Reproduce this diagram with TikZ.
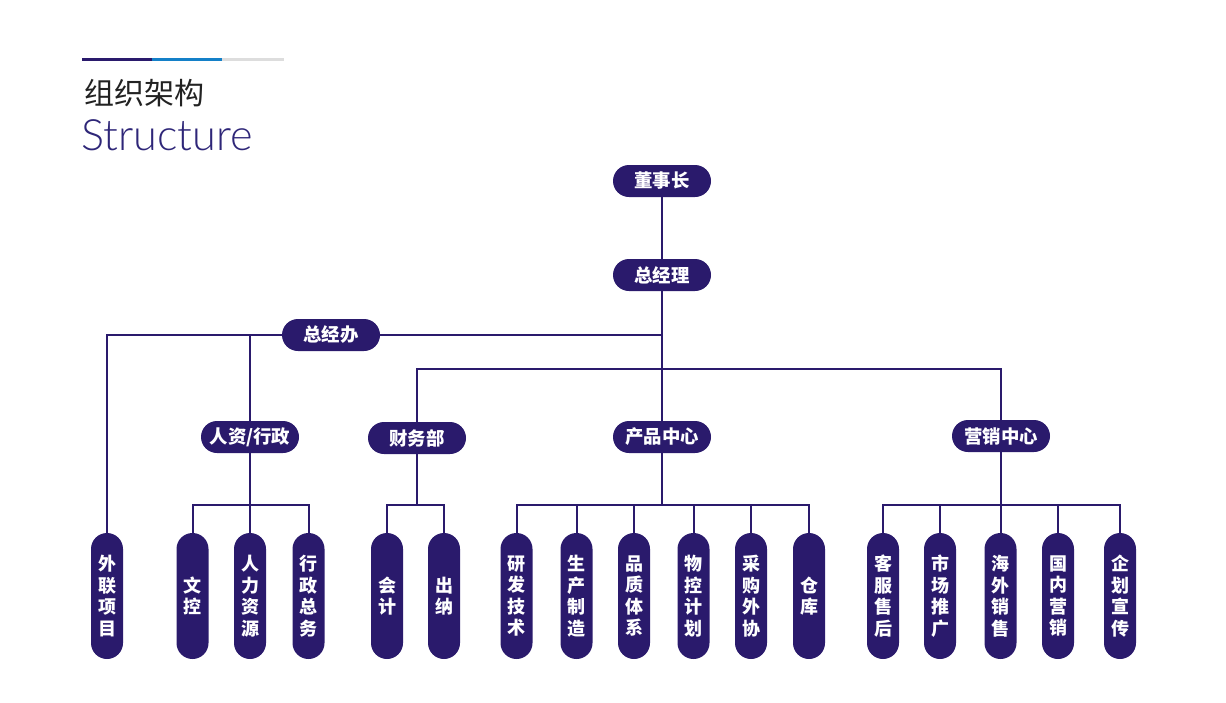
\documentclass[tikz,border=0pt]{standalone}
\usepackage{fontspec}
\newfontfamily\cjk{Noto Sans CJK SC}
\newfontfamily\latin{Lato Light}
\definecolor{ink}{HTML}{2A1A6C}
\definecolor{barblue}{HTML}{1480C8}
\definecolor{bargray}{HTML}{DDDDDD}
\definecolor{titlegray}{HTML}{222222}
\definecolor{titleblue}{HTML}{2E2678}
\tikzset{
	hbox/.style={fill=ink, text=white, rounded corners=8pt, minimum width=49pt, minimum height=16pt, inner sep=2pt, font=\cjk\bfseries\fontsize{9.2}{9.2}\selectfont},
	vbox/.style={fill=ink, text=white, rounded corners=8pt, minimum width=16pt, minimum height=63pt, inner sep=0pt, align=center, font=\cjk\bfseries\fontsize{9}{10.8}\selectfont},
	link/.style={draw=ink, line width=1pt}
}
\begin{document}
\begin{tikzpicture}[x=0.5pt,y=-0.5pt]
				\useasboundingbox (0,0) rectangle (1226,702);
				
				% header
				\fill[ink] (82,58) rectangle (152,61);
				\fill[barblue] (152,58) rectangle (222,61);
				\fill[bargray] (222,58) rectangle (284,61);
				\node[anchor=west, inner sep=0pt, text=titlegray, font=\cjk\fontsize{15}{15}\selectfont] (title) at (84,93) {组织架构};
				\node[anchor=base west, inner sep=0pt, text=titleblue, font=\latin\fontsize{21.6}{21.6}\selectfont] (subtitle) at (81,150) {Structure};
				
				% top levels
				\node[hbox] (dsz) at (662,181) {董事长};
				\node[hbox] (zjl) at (662,275) {总经理};
				\node[hbox] (zjb) at (331,335) {总经办};
				
				\node[hbox] (rz) at (250,437) {人资/行政};
				\node[hbox] (cw) at (417,438) {财务部};
				\node[hbox] (cp) at (662,437) {产品中心};
				\node[hbox] (yx) at (1001,436) {营销中心};
				
				% bottom level
				\node[vbox] (wl) at (107,596) {外\\联\\项\\目};
				
				\node[vbox] (wk) at (192.5,596) {文\\控};
				\node[vbox] (rl) at (250,596) {人\\力\\资\\源};
				\node[vbox] (xz) at (308.5,596) {行\\政\\总\\务};
				
				\node[vbox] (kj) at (387,596) {会\\计};
				\node[vbox] (cn) at (444,596) {出\\纳};
				
				\node[vbox] (yf) at (516.5,596) {研\\发\\技\\术};
				\node[vbox] (sc) at (576.5,596) {生\\产\\制\\造};
				\node[vbox] (pz) at (634,596) {品\\质\\体\\系};
				\node[vbox] (wk2) at (693.5,596) {物\\控\\计\\划};
				\node[vbox] (cg) at (751,596) {采\\购\\外\\协};
				\node[vbox] (ck) at (809,596) {仓\\库};
				
				\node[vbox] (kf) at (883,596) {客\\服\\售\\后};
				\node[vbox] (sctg) at (940,596) {市\\场\\推\\广};
				\node[vbox] (hw) at (1000.5,596) {海\\外\\销\\售};
				\node[vbox] (gn) at (1058,596) {国\\内\\营\\销};
				\node[vbox] (qh) at (1120,596) {企\\划\\宣\\传};
				
				% connectors
				\coordinate (bus) at (662,369);
				\coordinate (lv) at (0,505);
				
				\draw[link] (dsz) -- (zjl);
				\draw[link] (zjl) -- (cp);
				\draw[link] (zjb) -- (zjl |- zjb);
				\draw[link] (zjb) -| (wl);
				\draw[link] (rz) -- (rz |- zjb);
				\draw[link] (cw) |- (bus) -| (yx);
				
				\foreach \c in {wk,rl,xz} \draw[link] (\c) |- (rz |- lv) -- (rz);
				\foreach \c in {kj,cn} \draw[link] (\c) |- (cw |- lv) -- (cw);
				\foreach \c in {yf,sc,pz,wk2,cg,ck} \draw[link] (\c) |- (cp |- lv) -- (cp);
				\foreach \c in {kf,sctg,hw,gn,qh} \draw[link] (\c) |- (yx |- lv) -- (yx);
			\end{tikzpicture}
\end{document}
